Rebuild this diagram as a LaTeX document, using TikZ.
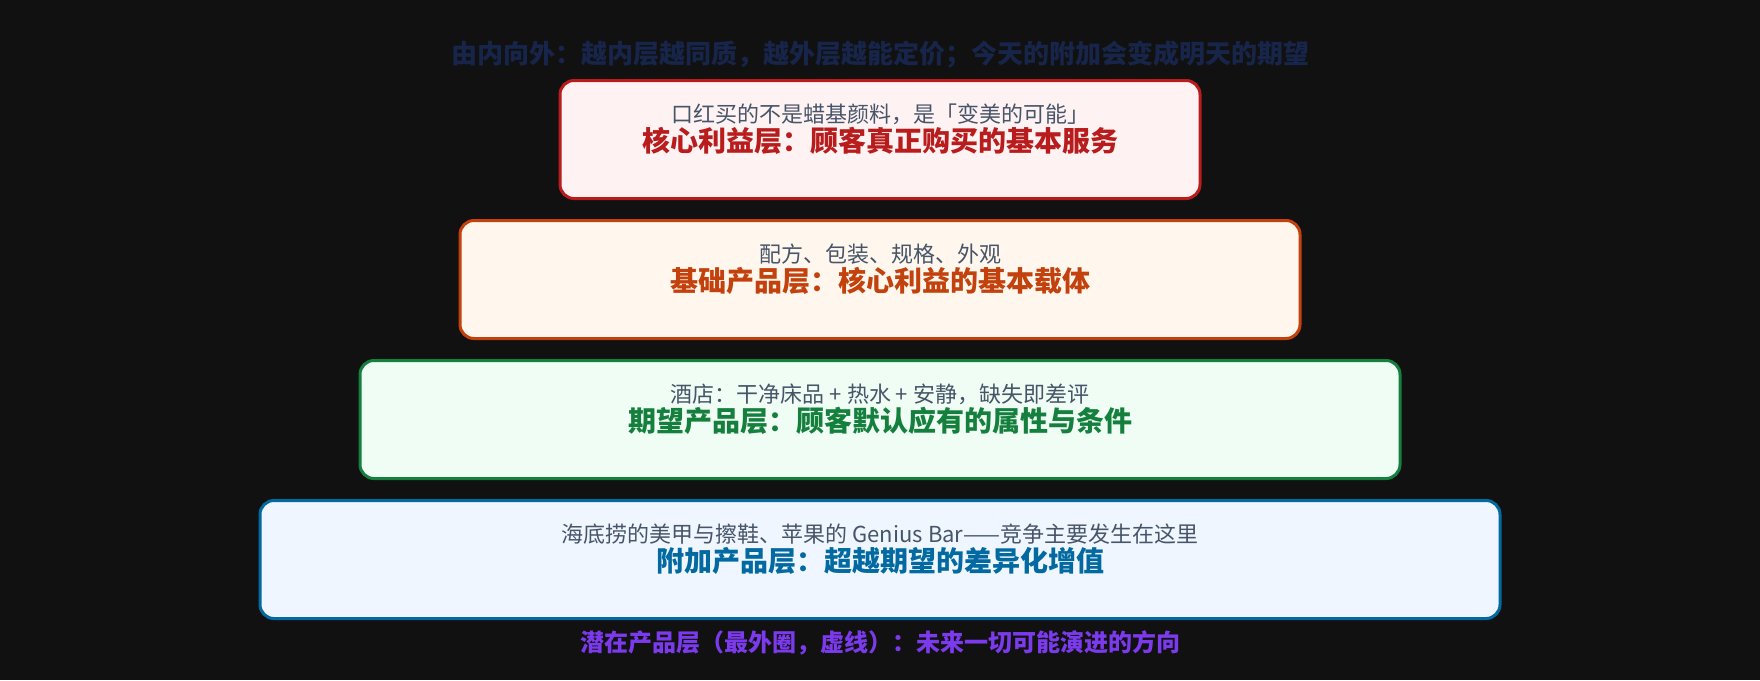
\documentclass[tikz,border=0pt]{standalone}
\usepackage{fontspec}
\setmainfont{Noto Sans CJK SC}
\usetikzlibrary{positioning}

\definecolor{bgdark}{HTML}{111111}
\definecolor{headnavy}{HTML}{17254A}
\definecolor{subslate}{HTML}{475569}
\definecolor{coreline}{HTML}{B91C1C}
\definecolor{corefill}{HTML}{FEF2F2}
\definecolor{baseline}{HTML}{C2410C}
\definecolor{basefill}{HTML}{FFF7ED}
\definecolor{expline}{HTML}{15803D}
\definecolor{expfill}{HTML}{F0FDF4}
\definecolor{augline}{HTML}{0369A1}
\definecolor{augfill}{HTML}{EFF6FF}
\definecolor{potviolet}{HTML}{7C3AED}

\begin{document}
\begin{tikzpicture}[x=1pt, y=-1pt,
		layer/.style={draw, line width=3pt, rounded corners=14pt, minimum height=118pt, inner sep=0pt},
		subtext/.style={text=subslate, font=\fontsize{22}{25}\selectfont},
		maintext/.style={font=\fontsize{28}{31}\selectfont\bfseries}]
	\fill [bgdark] (0,0) rectangle (1760,680);

	\node (title) [text=headnavy, font=\fontsize{26}{29}\selectfont\bfseries] at (880,55) {由内向外：越内层越同质，越外层越能定价；今天的附加会变成明天的期望};

	% layers, inner to outer
	\node (box_1) [layer, draw=coreline, fill=corefill, minimum width=640pt] at (880,139.5) {};
	\node (box_2) [layer, draw=baseline, fill=basefill, minimum width=840pt, below=19pt of box_1] {};
	\node (box_3) [layer, draw=expline, fill=expfill, minimum width=1040pt, below=19pt of box_2] {};
	\node (box_4) [layer, draw=augline, fill=augfill, minimum width=1240pt, below=19pt of box_3] {};

	\node (sub_1) [subtext] at ([yshift=-35pt]box_1.north) {口红买的不是蜡基颜料，是「变美的可能」};
	\node (main_1) [maintext, text=coreline] at ([yshift=-62pt]box_1.north) {核心利益层：顾客真正购买的基本服务};

	\node (sub_2) [subtext] at ([yshift=-35pt]box_2.north) {配方、包装、规格、外观};
	\node (main_2) [maintext, text=baseline] at ([yshift=-62pt]box_2.north) {基础产品层：核心利益的基本载体};

	\node (sub_3) [subtext] at ([yshift=-35pt]box_3.north) {酒店：干净床品 + 热水 + 安静，缺失即差评};
	\node (main_3) [maintext, text=expline] at ([yshift=-62pt]box_3.north) {期望产品层：顾客默认应有的属性与条件};

	\node (sub_4) [subtext] at ([yshift=-35pt]box_4.north) {海底捞的美甲与擦鞋、苹果的 Genius Bar——竞争主要发生在这里};
	\node (main_4) [maintext, text=augline] at ([yshift=-62pt]box_4.north) {附加产品层：超越期望的差异化增值};

	\node (potential) [text=potviolet, font=\fontsize{24}{27}\selectfont\bfseries] at (880,643) {潜在产品层（最外圈，虚线）：未来一切可能演进的方向};
\end{tikzpicture}
\end{document}
